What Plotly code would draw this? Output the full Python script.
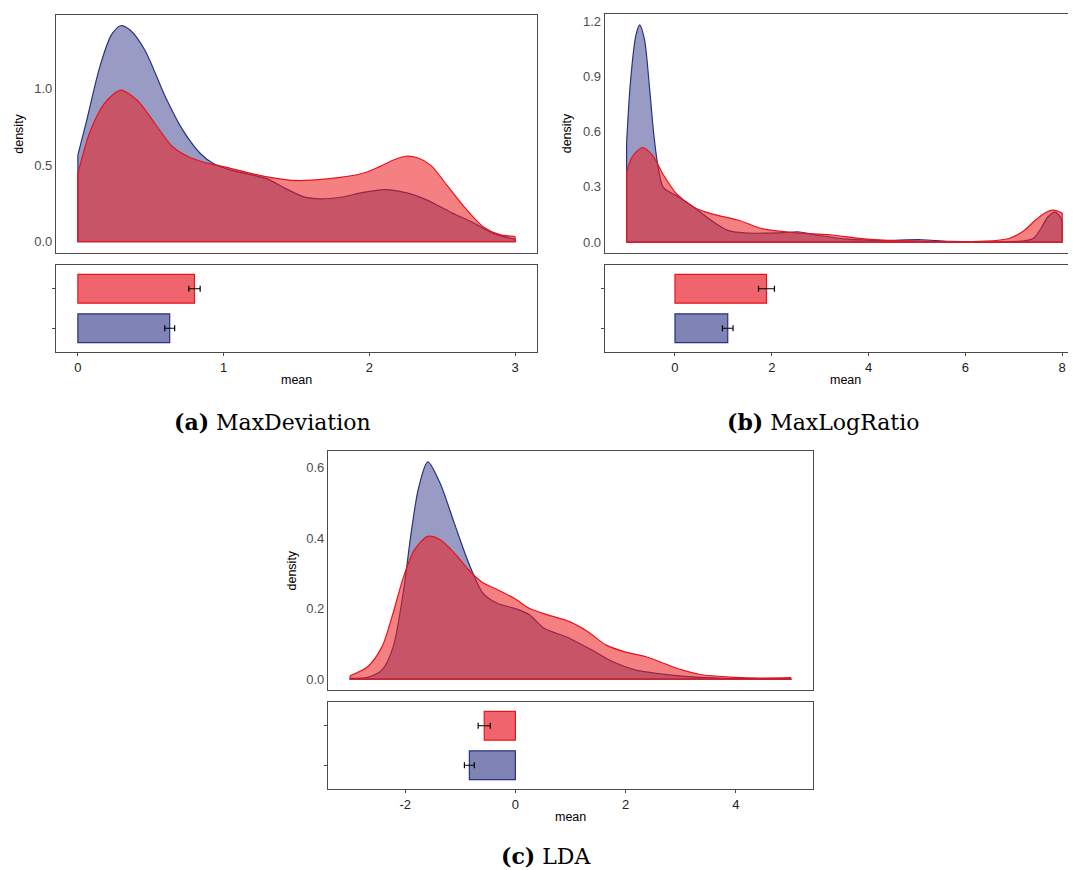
import plotly.graph_objects as go

OFF = 8  # default page body margin
W, H = 1076 - OFF, 870 - OFF

# ---------------- data ----------------
# (a) MaxDeviation densities
a_blue_x = [0, 0.06, 0.15, 0.23, 0.295, 0.36, 0.46, 0.60, 0.72, 0.84, 0.93, 1.05, 1.2, 1.3, 1.42, 1.55, 1.66, 1.8, 1.95, 2.1, 2.25, 2.4, 2.55, 2.7, 2.85, 3.0]
a_blue_y = [0.565, 0.79, 1.14, 1.35, 1.41, 1.38, 1.25, 0.946, 0.728, 0.576, 0.51, 0.467, 0.435, 0.41, 0.35, 0.293, 0.28, 0.29, 0.32, 0.34, 0.32, 0.27, 0.196, 0.13, 0.054, 0.015]
a_red_x = [0, 0.08, 0.18, 0.295, 0.41, 0.53, 0.65, 0.77, 0.9, 1.0, 1.24, 1.48, 1.71, 1.95, 2.07, 2.17, 2.25, 2.33, 2.42, 2.54, 2.66, 2.78, 2.89, 3.0]
a_red_y = [0.445, 0.71, 0.90, 0.99, 0.92, 0.77, 0.62, 0.55, 0.51, 0.49, 0.435, 0.40, 0.41, 0.445, 0.49, 0.535, 0.558, 0.548, 0.50, 0.36, 0.217, 0.098, 0.048, 0.033]
a_means = [0.63, 0.80]      # [blue, red]
a_errs = [0.034, 0.039]

# (b) MaxLogRatio densities
b_blue_x = [-1, -0.92, -0.81, -0.73, -0.63, -0.53, -0.44, -0.35, -0.25, -0.1, 0.04, 0.39, 0.74, 1.09, 1.44, 2.15, 2.57, 2.99, 3.56, 4.26, 5.1, 5.67, 7.08, 7.4, 7.55, 7.7, 7.85, 7.95, 8.0]
b_blue_y = [0.54, 0.87, 1.12, 1.18, 1.10, 0.85, 0.59, 0.41, 0.30, 0.27, 0.25, 0.19, 0.12, 0.064, 0.05, 0.05, 0.055, 0.036, 0.016, 0.009, 0.013, 0.004, 0.004, 0.02, 0.07, 0.135, 0.163, 0.14, 0.11]
b_red_x = [-1, -0.88, -0.67, -0.46, -0.25, 0.04, 0.39, 0.74, 1.3, 1.8, 2.5, 3.2, 3.9, 4.96, 6.4, 6.9, 7.2, 7.45, 7.65, 7.8, 7.92, 8.0]
b_red_y = [0.38, 0.465, 0.514, 0.47, 0.37, 0.26, 0.19, 0.155, 0.12, 0.073, 0.05, 0.04, 0.018, 0.005, 0.005, 0.02, 0.06, 0.12, 0.16, 0.174, 0.168, 0.158]
b_means = [1.09, 1.89]
b_errs = [0.11, 0.165]

# (c) LDA densities
c_blue_x = [-3, -2.68, -2.42, -2.22, -2.03, -1.9, -1.76, -1.59, -1.37, -1.11, -0.85, -0.59, -0.33, 0.0, 0.26, 0.52, 0.92, 1.38, 1.77, 2.17, 2.56, 3.02, 3.68, 5.0]
c_blue_y = [0.002, 0.005, 0.026, 0.09, 0.25, 0.405, 0.54, 0.616, 0.557, 0.443, 0.33, 0.244, 0.215, 0.20, 0.182, 0.144, 0.12, 0.083, 0.049, 0.026, 0.016, 0.0085, 0.003, 0.001]
c_red_x = [-3, -2.68, -2.42, -2.22, -2.03, -1.83, -1.59, -1.37, -1.11, -0.85, -0.59, -0.33, 0.0, 0.26, 0.59, 0.98, 1.31, 1.64, 1.97, 2.36, 2.69, 3.02, 3.35, 4.0, 4.4, 5.0]
c_red_y = [0.0095, 0.035, 0.092, 0.187, 0.29, 0.367, 0.405, 0.396, 0.358, 0.31, 0.273, 0.254, 0.227, 0.20, 0.182, 0.163, 0.135, 0.097, 0.078, 0.064, 0.045, 0.026, 0.013, 0.005, 0.003, 0.004]
c_means = [-0.835, -0.565]
c_errs = [0.09, 0.11]

groups = [0, 1]  # 0 = blue group (bottom), 1 = red group (top)

a_xticks = [0, 1, 2, 3]
b_xticks = [0, 2, 4, 6, 8]
c_xticks = [-2, 0, 2, 4]
a_yticks = [0.0, 0.5, 1.0]
b_yticks = [0.0, 0.3, 0.6, 0.9, 1.2]
c_yticks = [0.0, 0.2, 0.4, 0.6]

captions = ["<b>(a)</b> MaxDeviation", "<b>(b)</b> MaxLogRatio", "<b>(c)</b> LDA"]

# ---------------- style ----------------
BLUE_LINE = "#26337f"
BLUE_FILL = "rgba(26,35,126,0.45)"
BLUE_BAR = "#8084b4"
RED_LINE = "#e8141c"
RED_FILL = "rgba(238,28,30,0.56)"
RED_BAR = "#f0656d"
AXC = "#4a4a4a"
TICKC = "#4d4d4d"
FONT = "Liberation Sans"


def px(x):
    return min(1.0, max(0.0, (x - OFF) / W))


def py(y):
    return min(1.0, max(0.0, 1 - (y - OFF) / H))


fig = go.Figure()

panels = [
    dict(bx=a_blue_x, by=a_blue_y, rx=a_red_x, ry=a_red_y, means=a_means, errs=a_errs,
         xt=a_xticks, yt=a_yticks, xr=[-0.15, 3.15], yr=[-0.0705, 1.48],
         xd=(56, 537), dd=(15, 252.5), bd=(265, 352), mirror_y=True),
    dict(bx=b_blue_x, by=b_blue_y, rx=b_red_x, ry=b_red_y, means=b_means, errs=b_errs,
         xt=b_xticks, yt=b_yticks, xr=[-1.45, 8.285], yr=[-0.059, 1.239],
         xd=(604.8, 1076), dd=(14, 253), bd=(265, 352), mirror_y=False),
    dict(bx=c_blue_x, by=c_blue_y, rx=c_red_x, ry=c_red_y, means=c_means, errs=c_errs,
         xt=c_xticks, yt=c_yticks, xr=[-3.4, 5.4], yr=[-0.031, 0.647],
         xd=(328, 813), dd=(451, 690), bd=(702, 789), mirror_y=True),
]

layout = dict(width=W, height=H, margin=dict(l=0, r=0, t=0, b=0),
              paper_bgcolor="white", plot_bgcolor="white", showlegend=False,
              annotations=[])

for i, p in enumerate(panels):
    dn = 2 * i + 1
    bn = 2 * i + 2
    xa_d, ya_d = f"x{dn}", f"y{dn}"
    xa_b, ya_b = f"x{bn}", f"y{bn}"
    # densities: blue first, red on top
    for xs, ys, lc, fc in [(p["bx"], p["by"], BLUE_LINE, BLUE_FILL), (p["rx"], p["ry"], RED_LINE, RED_FILL)]:
        fig.add_trace(go.Scatter(x=xs, y=ys, mode="lines", fill="tozeroy", fillcolor=fc,
                                 line=dict(color=lc, width=1.2, shape="spline", smoothing=0.8),
                                 xaxis=xa_d, yaxis=ya_d, hoverinfo="skip"))
        fig.add_trace(go.Scatter(x=[xs[0], xs[0], xs[-1], xs[-1]], y=[ys[0], 0, 0, ys[-1]],
                                 mode="lines", line=dict(color=lc, width=1.2),
                                 xaxis=xa_d, yaxis=ya_d, hoverinfo="skip"))
    # bars
    for g, fc, lc in [(0, BLUE_BAR, BLUE_LINE), (1, RED_BAR, RED_LINE)]:
        fig.add_trace(go.Bar(x=[p["means"][g]], y=[groups[g]], orientation="h", width=0.73,
                             marker=dict(color=fc, line=dict(color=lc, width=1.2)),
                             error_x=dict(type="data", array=[p["errs"][g]], color="black",
                                          thickness=1.2, width=3),
                             xaxis=xa_b, yaxis=ya_b, hoverinfo="skip"))

    xdom = [px(p["xd"][0]), px(p["xd"][1])]
    common_line = dict(showline=True, linecolor=AXC, linewidth=1.2, showgrid=False, zeroline=False)
    # density axes
    layout[f"xaxis{dn}"] = dict(domain=xdom, range=p["xr"], anchor=ya_d, showticklabels=False,
                                ticks="", mirror=True, **common_line)
    layout[f"yaxis{dn}"] = dict(domain=[py(p["dd"][1]), py(p["dd"][0])], range=p["yr"], anchor=xa_d,
                                tickvals=p["yt"], ticktext=[f"{v:.1f}" for v in p["yt"]],
                                ticks="", mirror=p["mirror_y"],
                                tickfont=dict(family=FONT, size=13, color=TICKC), **common_line)
    # bar axes
    layout[f"xaxis{bn}"] = dict(domain=xdom, range=p["xr"], anchor=ya_b,
                                tickvals=p["xt"], ticktext=[str(v) for v in p["xt"]],
                                ticks="outside", ticklen=3, tickcolor=AXC, tickwidth=1,
                                mirror=True, tickfont=dict(family=FONT, size=13, color="#222"),
                                **common_line)
    layout[f"yaxis{bn}"] = dict(domain=[py(p["bd"][1]), py(p["bd"][0])], range=[-0.6, 1.6], anchor=xa_b,
                                tickvals=groups, ticktext=["", ""], ticks="outside", ticklen=3,
                                tickcolor=AXC, tickwidth=1, mirror=p["mirror_y"], **common_line)

    # axis titles
    dcx = (p["xd"][0] + p["xd"][1]) / 2 if i != 1 else 845
    layout["annotations"].append(dict(text="density", textangle=-90, xref="paper", yref="paper",
                                      x=px(p["xd"][0] - 37), y=py((p["dd"][0] + p["dd"][1]) / 2),
                                      showarrow=False, xanchor="center", yanchor="middle",
                                      font=dict(family=FONT, size=12.5, color="black")))
    layout["annotations"].append(dict(text="mean", xref="paper", yref="paper",
                                      x=px(dcx), y=py(p["bd"][1] + 28), showarrow=False,
                                      xanchor="center", yanchor="middle",
                                      font=dict(family=FONT, size=12.5, color="black")))

cap_pos = [(272, 422), (823, 422), (546, 856)]
for txt, (cx, cy) in zip(captions, cap_pos):
    layout["annotations"].append(dict(text=txt, xref="paper", yref="paper", x=px(cx), y=py(cy),
                                      showarrow=False, xanchor="center", yanchor="middle",
                                      font=dict(family="DejaVu Serif", size=22, color="black")))

fig.update_layout(**layout)
fig.write_html("out.html")
